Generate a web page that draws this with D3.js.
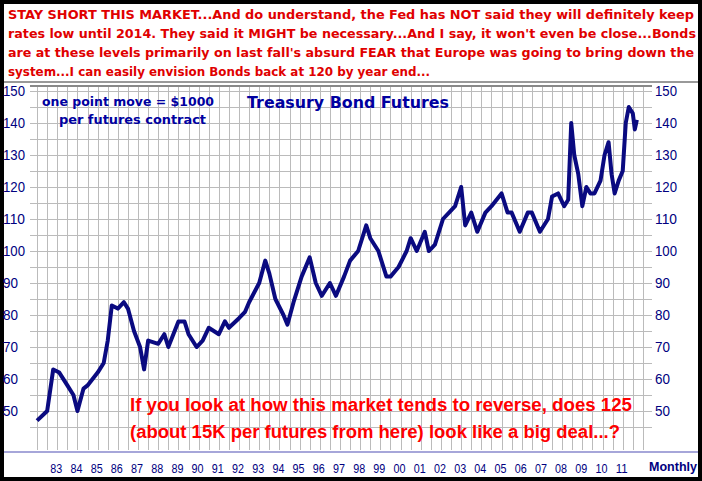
<!DOCTYPE html>
<html><head><meta charset="utf-8">
<script src="https://cdn.jsdelivr.net/npm/d3@7"></script>
<style>body{margin:0;background:#000}svg{display:block}</style>
</head><body>
<script>
// --- Data ---
const dates = [1982.5,1983.0,1983.3,1983.6,1984.0,1984.3,1984.5,1984.8,1985.0,1985.5,1985.8,1986.0,1986.2,1986.5,1986.8,1987.0,1987.3,1987.6,1987.8,1988.0,1988.5,1988.8,1989.0,1989.5,1989.8,1990.0,1990.4,1990.7,1991.0,1991.5,1991.8,1992.0,1992.5,1992.8,1993.0,1993.5,1993.8,1994.0,1994.3,1994.7,1994.9,1995.2,1995.6,1996.0,1996.3,1996.6,1997.0,1997.3,1997.7,1998.0,1998.4,1998.8,1999.0,1999.4,1999.8,2000.0,2000.4,2000.8,2001.0,2001.3,2001.7,2001.9,2002.2,2002.6,2002.9,2003.2,2003.5,2003.7,2004.0,2004.3,2004.7,2005.0,2005.5,2005.8,2006.0,2006.4,2006.8,2007.0,2007.4,2007.8,2008.0,2008.3,2008.6,2008.8,2008.95,2009.1,2009.3,2009.5,2009.7,2009.9,2010.1,2010.4,2010.6,2010.8,2010.95,2011.1,2011.3,2011.5,2011.65,2011.8,2012.0,2012.1,2012.2];
const prices = [47,50,63,62,58,55,50,57,58,62,65,72,83,82,84,82,75,70,63,72,71,74,70,78,78,74,70,72,76,74,78,76,79,81,84,90,97,93,85,80,77,84,92,98,90,86,90,86,92,97,100,108,104,100,92,92,95,100,104,100,106,100,102,110,112,114,120,108,112,106,112,114,118,112,112,106,112,112,106,110,117,118,114,116,140,130,124,114,120,118,118,122,130,134,124,118,122,125,140,145,143,138,141];
const yearTicks = d3.range(1983, 2012);
const priceTicks = [50,60,70,80,90,100,110,120,130,140,150];
const headline = [
  "STAY SHORT THIS MARKET...And do understand, the Fed has NOT said they will definitely keep",
  "rates low until 2014. They said it MIGHT be necessary...And I say, it won't even be close...Bonds",
  "are at these levels primarily on last fall's absurd FEAR that Europe was going to bring down the",
  "system...I can easily envision Bonds back at 120 by year end..."
];
const headlineWidths = [686, 688, 686, 422];
const note = ["If you look at how this market tends to reverse, does 125", "(about 15K per futures from here) look like a big deal...?"];
const noteWidths = [502, 490];

const W = 702, H = 481;
const plot = {left: 30, right: 652, top: 86, bottom: 450};

const svg = d3.select("body").append("svg").attr("width", W).attr("height", H);
svg.append("rect").attr("x", 4).attr("y", 4).attr("width", W - 8).attr("height", H - 8).attr("fill", "#fff");

// headline
svg.append("g").selectAll("text").data(headline).enter().append("text")
    .attr("x", 8).attr("y", (d, i) => 19 + i * 19)
    .attr("fill", "#e00000").attr("font-family", "DejaVu Sans, sans-serif")
    .attr("font-weight", "bold").attr("font-size", 12)
    .attr("textLength", (d, i) => headlineWidths[i]).attr("lengthAdjust", "spacingAndGlyphs")
    .text(d => d);
svg.append("line").attr("x1", 4).attr("x2", W - 4).attr("y1", 82).attr("y2", 82).attr("stroke", "#999").attr("stroke-width", 2);

const x = d3.scaleLinear().domain([1982.15, 2012.95]).range([plot.left, plot.right]);
const y = d3.scaleLinear().domain([50, 150]).range([411, 91]);

// grid
const grid = svg.append("g").attr("stroke", "#bbb").attr("stroke-width", 1);
grid.selectAll(".v").data(d3.range(1982.5, 2013, 0.5)).enter().append("line")
    .attr("x1", d => Math.round(x(d)) + 0.5).attr("x2", d => Math.round(x(d)) + 0.5)
    .attr("y1", plot.top).attr("y2", plot.bottom);
grid.selectAll(".h").data(d3.range(45, 151, 5)).enter().append("line")
    .attr("x1", plot.left).attr("x2", plot.right)
    .attr("y1", d => Math.round(y(d)) + 0.5).attr("y2", d => Math.round(y(d)) + 0.5);
svg.append("line").attr("x1", plot.left).attr("x2", plot.right).attr("y1", plot.top).attr("y2", plot.top).attr("stroke", "#888").attr("stroke-width", 2);
svg.append("line").attr("x1", 4).attr("x2", W - 4).attr("y1", 452).attr("y2", 452).attr("stroke", "#8888cc").attr("stroke-width", 1.5);

// axes labels
const axisFont = "Liberation Sans, Arial, sans-serif";
[3, 655].forEach(ax => {
  svg.append("g").selectAll("text").data(priceTicks).enter().append("text")
      .attr("x", ax).attr("y", d => y(d) + 5)
      .attr("fill", "#000080").attr("font-family", axisFont).attr("font-size", 14)
      .attr("textLength", d => d >= 100 ? 22 : 15).attr("lengthAdjust", "spacingAndGlyphs")
      .text(d => d);
});
svg.append("g").selectAll("text").data(yearTicks).enter().append("text")
    .attr("x", d => x(d + 0.45)).attr("y", 473).attr("text-anchor", "middle")
    .attr("fill", "#000080").attr("font-family", axisFont).attr("font-size", 13)
    .attr("textLength", 12).attr("lengthAdjust", "spacingAndGlyphs")
    .text(d => String(d % 100).padStart(2, "0"));
svg.append("text").attr("x", 649).attr("y", 471).attr("fill", "#000080")
    .attr("font-family", axisFont).attr("font-weight", "bold").attr("font-size", 13)
    .attr("textLength", 48).attr("lengthAdjust", "spacingAndGlyphs").text("Monthly");

// price line
const line = d3.line().x((d, i) => x(dates[i])).y(d => y(d));
svg.append("path").datum(prices).attr("d", line).attr("fill", "none")
    .attr("stroke", "#0a0a80").attr("stroke-width", 4).attr("stroke-linejoin", "round");

// annotations
const blueFont = "DejaVu Sans, sans-serif";
svg.append("text").attr("x", 42).attr("y", 106).attr("fill", "#0000a0").attr("font-family", blueFont)
    .attr("font-weight", "bold").attr("font-size", 12).attr("textLength", 172).attr("lengthAdjust", "spacingAndGlyphs").text("one point move = $1000");
svg.append("text").attr("x", 59).attr("y", 124).attr("fill", "#0000a0").attr("font-family", blueFont)
    .attr("font-weight", "bold").attr("font-size", 12).attr("textLength", 147).attr("lengthAdjust", "spacingAndGlyphs").text("per futures contract");
svg.append("text").attr("x", 247).attr("y", 108).attr("fill", "#0000a0").attr("font-family", blueFont)
    .attr("font-weight", "bold").attr("font-size", 15).attr("textLength", 202).attr("lengthAdjust", "spacingAndGlyphs").text("Treasury Bond Futures");
svg.append("g").selectAll("text").data(note).enter().append("text")
    .attr("x", 130).attr("y", (d, i) => 411 + i * 27)
    .attr("fill", "#ff0000").attr("font-family", axisFont).attr("font-weight", "bold").attr("font-size", 18)
    .attr("textLength", (d, i) => noteWidths[i]).attr("lengthAdjust", "spacingAndGlyphs")
    .text(d => d);
</script>
</body></html>
